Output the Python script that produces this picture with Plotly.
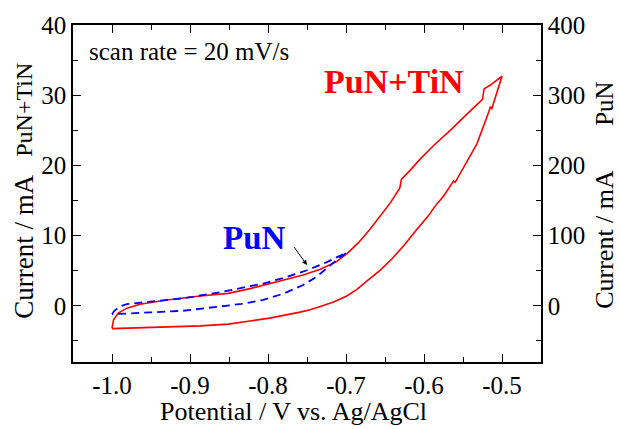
import plotly.graph_objects as go

# ---------------- data ----------------
# PuN+TiN (left axis, mA): anodic sweep then return sweep
tin_up_E = [-1.000, -0.998, -0.992, -0.981, -0.964, -0.930, -0.887, -0.851, -0.823, -0.798,
            -0.778, -0.755, -0.733, -0.712, -0.698, -0.684, -0.670, -0.656, -0.643, -0.631,
            -0.629, -0.617, -0.605, -0.588, -0.571, -0.564, -0.546, -0.528, -0.525, -0.523,
            -0.515, -0.500]
tin_up_I = [-3.2, -2.0, -1.04, -0.33, 0.23, 0.84, 1.4, 1.78, 2.45, 3.18,
            3.75, 4.4, 5.2, 6.3, 7.5, 9.0, 10.8, 12.8, 14.7, 16.8,
            18.0, 19.4, 20.9, 22.8, 24.5, 25.25, 27.2, 29.2, 29.4, 30.9,
            31.45, 32.7]
tin_dn_E = [-0.500, -0.507, -0.513, -0.515, -0.517, -0.532, -0.546, -0.554, -0.560, -0.562,
            -0.575, -0.584, -0.596, -0.609, -0.625, -0.641, -0.656, -0.673, -0.686, -0.699,
            -0.716, -0.733, -0.746, -0.759, -0.780, -0.798, -0.823, -0.851, -0.887, -0.930,
            -0.973, -1.000]
tin_dn_I = [32.7, 30.2, 28.1, 28.3, 27.6, 23.1, 20.4, 18.7, 17.6, 17.8,
            15.6, 14.45, 12.6, 10.9, 8.7, 6.7, 5.1, 3.55, 2.35, 1.4,
            0.55, -0.1, -0.56, -0.9, -1.35, -1.75, -2.15, -2.6, -2.85, -2.98,
            -3.06, -3.24]

# PuN (right axis, mA)
pun_up_E = [-1.000, -0.997, -0.990, -0.981, -0.951, -0.909, -0.862, -0.834, -0.806, -0.778,
            -0.750, -0.726, -0.703, -0.699]
pun_up_I = [-12, -7, -1, 2.3, 6.0, 10.7, 19.2, 25.0, 31.8, 40.5,
            50.7, 61.5, 74.1, 76]
pun_dn_E = [-0.699, -0.710, -0.720, -0.737, -0.755, -0.780, -0.806, -0.834, -0.862, -0.909,
            -0.952, -0.990, -1.000]
pun_dn_I = [76, 67.0, 57.7, 42.0, 29.6, 17.5, 8.4, 2.8, -1.0, -7.0,
            -9.4, -11.8, -12]

x_ticks = [-1.0, -0.9, -0.8, -0.7, -0.6, -0.5]
x_ticktext = ["-1.0", "-0.9", "-0.8", "-0.7", "-0.6", "-0.5"]
y1_ticks = [0, 10, 20, 30, 40]
y1_ticktext = ["0", "10", "20", "30", "40"]
y2_ticks = [0, 100, 200, 300, 400]
y2_ticktext = ["0", "100", "200", "300", "400"]

FONT = "Liberation Serif"

fig = go.Figure()
fig.add_trace(go.Scatter(x=tin_up_E + tin_dn_E, y=tin_up_I + tin_dn_I, mode="lines",
                         line=dict(color="#ff0000", width=1.6), yaxis="y", showlegend=False))
fig.add_trace(go.Scatter(x=pun_up_E + pun_dn_E, y=pun_up_I + pun_dn_I, mode="lines",
                         line=dict(color="#0000ff", width=1.8, dash="8px,5px"), yaxis="y2",
                         showlegend=False))

TICKFONT = dict(family=FONT, size=25, color="black")


def axis_common():
    return dict(showgrid=False, zeroline=False, showline=True, linecolor="black", linewidth=1.5,
                ticks="inside", ticklen=8, tickwidth=1.3, tickcolor="black",
                tickfont=TICKFONT)


fig.update_layout(
    width=620, height=429,
    margin=dict(l=73, r=79, t=20, b=67),
    paper_bgcolor="white", plot_bgcolor="white",
    font=dict(family=FONT, size=25, color="black"),
    xaxis=dict(range=[-1.05, -0.45], tickvals=x_ticks, ticktext=x_ticktext, mirror="ticks",
               minor=dict(dtick=0.05, tick0=0, ticks="inside", ticklen=5, tickwidth=1.3, tickcolor="black"),
               **axis_common()),
    yaxis=dict(range=[-8, 40], tickvals=y1_ticks, ticktext=y1_ticktext,
               minor=dict(dtick=5, tick0=0, ticks="inside", ticklen=5, tickwidth=1.3, tickcolor="black"),
               **axis_common()),
    yaxis2=dict(range=[-80, 400], tickvals=y2_ticks, ticktext=y2_ticktext, overlaying="y", side="right",
                minor=dict(dtick=50, tick0=0, ticks="inside", ticklen=5, tickwidth=1.3, tickcolor="black"),
                **axis_common()),
)


# pixel -> paper helpers (plot area: x 73..541, y 20..362)
def px(xpix):
    return (xpix - 73) / 468.0


def py(ypix):
    return (362 - ypix) / 342.0


annotations = [
    dict(text="Potential / V vs. Ag/AgCl", xref="paper", yref="paper", x=px(293), y=py(412),
         xanchor="center", yanchor="middle", showarrow=False,
         font=dict(family=FONT, size=26, color="black")),
    dict(text="Current / mA", xref="paper", yref="paper", x=px(24), y=py(245),
         xanchor="center", yanchor="middle", textangle=-90, showarrow=False,
         font=dict(family=FONT, size=27, color="black")),
    dict(text="PuN+TiN", xref="paper", yref="paper", x=px(24), y=py(106),
         xanchor="center", yanchor="middle", textangle=-90, showarrow=False,
         font=dict(family=FONT, size=24, color="black")),
    dict(text="Current / mA", xref="paper", yref="paper", x=px(605), y=py(238),
         xanchor="center", yanchor="middle", textangle=-90, showarrow=False,
         font=dict(family=FONT, size=26, color="black")),
    dict(text="PuN", xref="paper", yref="paper", x=px(605), y=py(100),
         xanchor="center", yanchor="middle", textangle=-90, showarrow=False,
         font=dict(family=FONT, size=25, color="black")),
    dict(text="scan rate = 20 mV/s", xref="paper", yref="paper", x=px(87), y=py(47),
         xanchor="left", yanchor="middle", showarrow=False,
         font=dict(family=FONT, size=25, color="black")),
    dict(text="<b>PuN+TiN</b>", xref="x", yref="y", x=-0.731, y=31.9,
         xanchor="left", yanchor="middle", showarrow=False,
         font=dict(family=FONT, size=34, color="#ff0000")),
    dict(text="<b>PuN</b>", xref="x", yref="y", x=-0.860, y=9.6,
         xanchor="left", yanchor="middle", showarrow=False,
         font=dict(family=FONT, size=33, color="#0000ff")),
    dict(text="", xref="x", yref="y", x=-0.750, y=5.8, axref="x", ayref="y", ax=-0.768, ay=8.6,
         showarrow=True, arrowhead=2, arrowsize=1, arrowwidth=1, arrowcolor="black"),
]
fig.update_layout(annotations=annotations)

fig.write_html("out.html")
